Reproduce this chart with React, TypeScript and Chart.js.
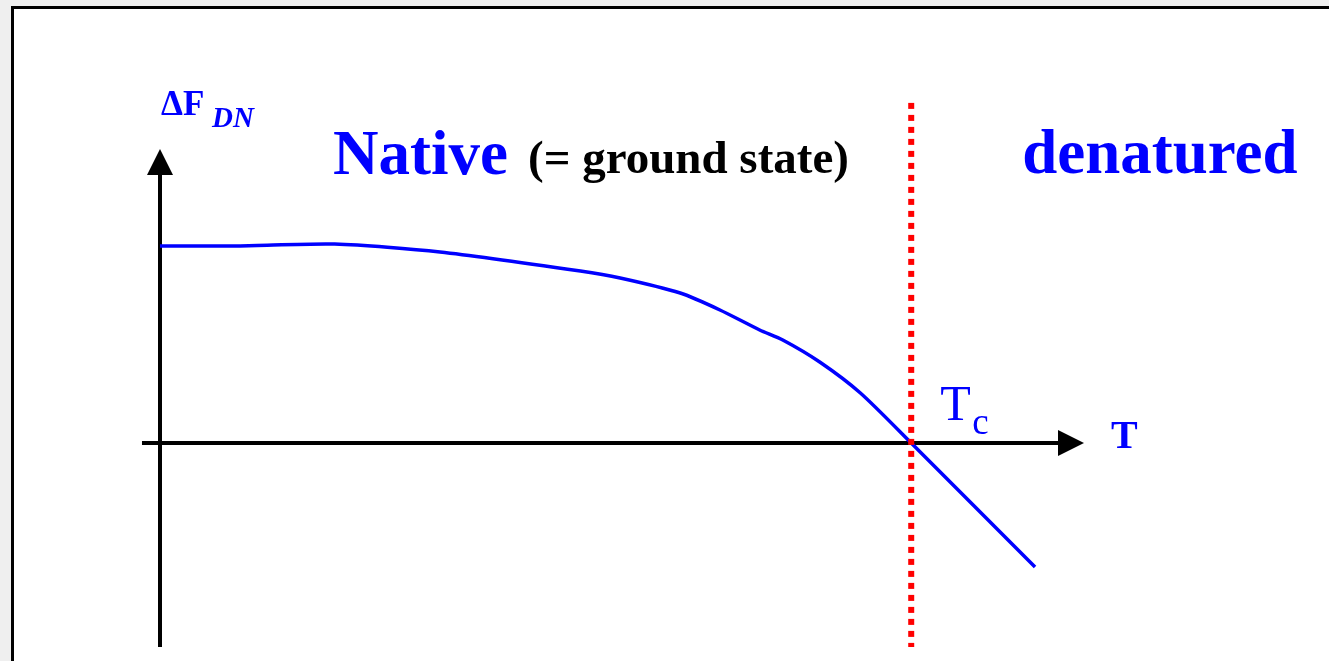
import React, { useEffect, useRef } from "react";
import { Chart, registerables } from "chart.js";

Chart.register(...registerables);

// Temperature (arbitrary units) and free-energy difference ΔF_DN (arbitrary units)
const temperatures: number[] = [0, 8.66, 18.9, 30.3, 45.5, 49.8, 56.3, 60.6, 64.9, 67.4, 71.4, 75.8, 81.3, 94.7];
const deltaF: number[] = [0.966, 0.966, 0.975, 0.936, 0.843, 0.809, 0.735, 0.652, 0.554, 0.505, 0.397, 0.245, 0, -0.608];
const criticalT = 81.3;
const xRange: number[] = [0, 100];
const yRange: number[] = [-1, 1.441];
const yAxisBottom = -1;
const xAxisStart = -1.95;
const redLineTop = 1.667;

const BLUE = "#0000ff";
const RED = "#ff0000";
const SERIF = '"Liberation Serif", "Times New Roman", serif';

const decorPlugin = {
  id: "decor",
  beforeDatasetsDraw(chart: any) {
    const { ctx, scales } = chart;
    const xs = scales.x;
    const ys = scales.y;
    const x0 = xs.getPixelForValue(0);
    const y0 = ys.getPixelForValue(0);
    const xTip = xs.getPixelForValue(xRange[1]);
    const yTip = ys.getPixelForValue(yRange[1]);
    const arrow = 26;
    ctx.save();
    ctx.strokeStyle = "#000";
    ctx.fillStyle = "#000";
    ctx.lineWidth = 4;
    // y axis
    ctx.beginPath();
    ctx.moveTo(x0, ys.getPixelForValue(yAxisBottom));
    ctx.lineTo(x0, yTip + arrow - 2);
    ctx.stroke();
    ctx.beginPath();
    ctx.moveTo(x0, yTip);
    ctx.lineTo(x0 - 13, yTip + arrow);
    ctx.lineTo(x0 + 13, yTip + arrow);
    ctx.closePath();
    ctx.fill();
    // x axis
    ctx.beginPath();
    ctx.moveTo(xs.getPixelForValue(xAxisStart), y0);
    ctx.lineTo(xTip - arrow + 2, y0);
    ctx.stroke();
    ctx.beginPath();
    ctx.moveTo(xTip, y0);
    ctx.lineTo(xTip - arrow, y0 - 13);
    ctx.lineTo(xTip - arrow, y0 + 13);
    ctx.closePath();
    ctx.fill();
    ctx.restore();
  },
  afterDatasetsDraw(chart: any) {
    const { ctx, scales } = chart;
    const xs = scales.x;
    const ys = scales.y;
    const x0 = xs.getPixelForValue(0);
    const y0 = ys.getPixelForValue(0);
    const xc = xs.getPixelForValue(criticalT);
    const xTip = xs.getPixelForValue(xRange[1]);
    ctx.save();
    // red dotted line at Tc
    ctx.strokeStyle = RED;
    ctx.lineWidth = 6;
    ctx.setLineDash([6, 6]);
    ctx.beginPath();
    ctx.moveTo(xc, ys.getPixelForValue(redLineTop));
    ctx.lineTo(xc, ys.getPixelForValue(yAxisBottom));
    ctx.stroke();
    ctx.setLineDash([]);

    ctx.textAlign = "left";
    ctx.textBaseline = "alphabetic";
    // ΔF_DN
    ctx.fillStyle = BLUE;
    ctx.font = `bold 35px ${SERIF}`;
    ctx.fillText("ΔF", x0 + 1, y0 - 328);
    ctx.font = `italic bold 29px ${SERIF}`;
    ctx.fillText("DN", x0 + 52, y0 - 316);
    // Native (= ground state)
    ctx.font = `bold 63px ${SERIF}`;
    ctx.fillText("Native", x0 + 173, y0 - 269);
    ctx.fillStyle = "#000";
    ctx.font = `bold 47px ${SERIF}`;
    ctx.fillText("(= ground state)", x0 + 368, y0 - 270);
    // denatured
    ctx.fillStyle = BLUE;
    ctx.font = `bold 63px ${SERIF}`;
    ctx.fillText("denatured", xc + 111, y0 - 270);
    // Tc
    ctx.font = `50px ${SERIF}`;
    ctx.fillText("T", xc + 29, y0 - 23);
    ctx.font = `37px ${SERIF}`;
    ctx.fillText("c", xc + 61, y0 - 9);
    // T
    ctx.font = `bold 40px ${SERIF}`;
    ctx.fillText("T", xTip + 27, y0 + 5);
    ctx.restore();
  },
};

export default function App() {
  const canvasRef = useRef<HTMLCanvasElement | null>(null);

  useEffect(() => {
    document.body.style.margin = "0";
    const canvas = canvasRef.current;
    if (!canvas) return;
    const chart = new Chart(canvas, {
      type: "line",
      data: {
        datasets: [
          {
            data: temperatures.map((t, i) => ({ x: t, y: deltaF[i] })),
            borderColor: BLUE,
            borderWidth: 3.5,
            pointRadius: 0,
            tension: 0.25,
            fill: false,
          },
        ],
      },
      options: {
        animation: false,
        responsive: false,
        maintainAspectRatio: false,
        layout: { padding: { left: 160, right: 245, top: 149, bottom: 14 } },
        plugins: { legend: { display: false }, tooltip: { enabled: false } },
        scales: {
          x: { type: "linear", min: xRange[0], max: xRange[1], display: false },
          y: { type: "linear", min: yRange[0], max: yRange[1], display: false },
        },
      },
      plugins: [decorPlugin],
    });
    return () => chart.destroy();
  }, []);

  return (
    <div style={{ position: "absolute", left: 0, top: 0, width: 1329, height: 661, background: "#efefef", overflow: "hidden" }}>
      <div
        style={{
          position: "absolute",
          left: 11,
          top: 6,
          width: 1400,
          height: 720,
          border: "3px solid #000",
          background: "#fff",
          boxSizing: "border-box",
        }}
      />
      <canvas ref={canvasRef} width={1329} height={661} style={{ position: "absolute", left: 0, top: 0, width: 1329, height: 661 }} />
    </div>
  );
}
